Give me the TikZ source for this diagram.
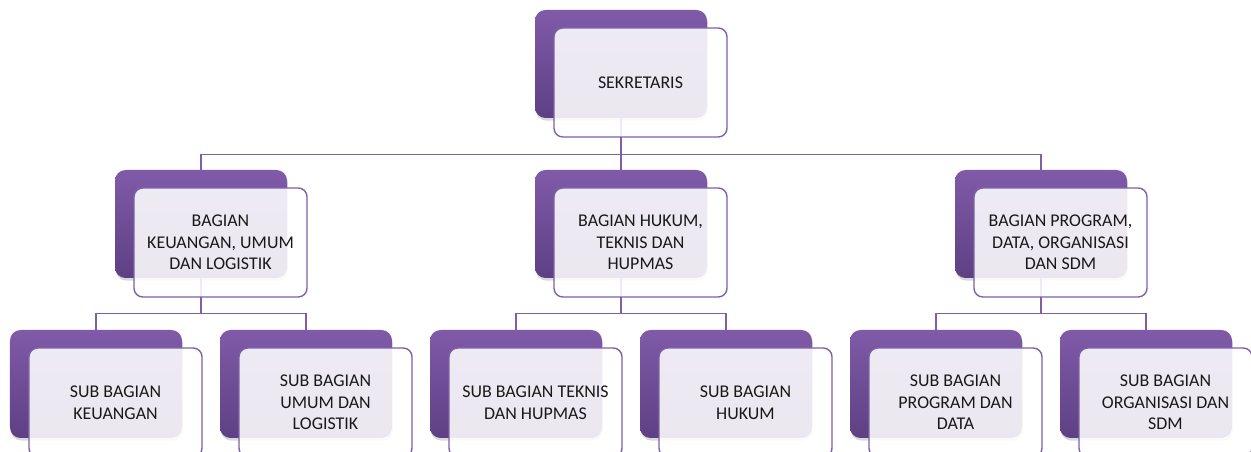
\documentclass[tikz,border=0pt]{standalone}
\usepackage{fontspec}
\setmainfont{Carlito}
\usepackage{tikz}
\usetikzlibrary{shadows}
\definecolor{purpletop}{RGB}{128,90,168}
\definecolor{purplebot}{RGB}{94,64,132}
\definecolor{purpleline}{RGB}{125,96,165}
\definecolor{textgray}{RGB}{25,25,25}
\tikzstyle{back} = [rectangle, rounded corners=6pt, minimum width=3.44cm, minimum height=2.16cm, top color=purpletop, bottom color=purplebot, draw=none, drop shadow={shadow xshift=0.5pt, shadow yshift=-1.5pt, opacity=0.3}]
\tikzstyle{front} = [rectangle, rounded corners=5pt, minimum width=3.46cm, minimum height=2.18cm, draw=purpleline, line width=0.8pt, fill=white, fill opacity=0.88, text opacity=1, text=textgray, align=center, font=\fontsize{10.2}{12.3}\selectfont]
\tikzstyle{link} = [purpleline, line width=0.85pt]

\begin{document}
\begin{tikzpicture}[node distance=3.2cm]
        \useasboundingbox (0,0) rectangle (25.02,9.04);
        \node (sek) [back] at (12.42,7.76) {};
        \node (hukum) [back, below of=sek] {};
        \node (keu) [back, left of=hukum, node distance=8.4cm] {};
        \node (prog) [back, right of=hukum, node distance=8.4cm] {};

        \node (subkeu) [back, below of=keu, xshift=-2.1cm] {};
        \node (subumum) [back, below of=keu, xshift=2.1cm] {};
        \node (subtek) [back, below of=hukum, xshift=-2.1cm] {};
        \node (subhuk) [back, below of=hukum, xshift=2.1cm] {};
        \node (subprog) [back, below of=prog, xshift=-2.1cm] {};
        \node (suborg) [back, below of=prog, xshift=2.1cm] {};

        \coordinate (bus0) at ([yshift=-0.72cm]sek.south);
        \coordinate (bus1) at ([yshift=-0.7cm]keu.south);
        \coordinate (bus2) at ([yshift=-0.7cm]hukum.south);
        \coordinate (bus3) at ([yshift=-0.7cm]prog.south);

        \draw [link] (sek.south) -- (bus0) -| (keu.north);
        \draw [link] (bus0) -- (hukum.north);
        \draw [link] (bus0) -| (prog.north);

        \draw [link] (keu.south) -- (bus1) -| (subkeu.north);
        \draw [link] (bus1) -| (subumum.north);
        \draw [link] (hukum.south) -- (bus2) -| (subtek.north);
        \draw [link] (bus2) -| (subhuk.north);
        \draw [link] (prog.south) -- (bus3) -| (subprog.north);
        \draw [link] (bus3) -| (suborg.north);

        \node (sektxt) [front, xshift=0.39cm, yshift=-0.37cm] at (sek) {SEKRETARIS};
        \node (keutxt) [front, xshift=0.39cm, yshift=-0.37cm] at (keu) {BAGIAN\\KEUANGAN, UMUM\\DAN LOGISTIK};
        \node (hukumtxt) [front, xshift=0.39cm, yshift=-0.37cm] at (hukum) {BAGIAN HUKUM,\\TEKNIS DAN\\HUPMAS};
        \node (progtxt) [front, xshift=0.39cm, yshift=-0.37cm] at (prog) {BAGIAN PROGRAM,\\DATA, ORGANISASI\\DAN SDM};

        \node (subkeutxt) [front, xshift=0.39cm, yshift=-0.37cm] at (subkeu) {SUB BAGIAN\\KEUANGAN};
        \node (subumumtxt) [front, xshift=0.39cm, yshift=-0.37cm] at (subumum) {SUB BAGIAN\\UMUM DAN\\LOGISTIK};
        \node (subtektxt) [front, xshift=0.39cm, yshift=-0.37cm] at (subtek) {SUB BAGIAN TEKNIS\\DAN HUPMAS};
        \node (subhuktxt) [front, xshift=0.39cm, yshift=-0.37cm] at (subhuk) {SUB BAGIAN\\HUKUM};
        \node (subprogtxt) [front, xshift=0.39cm, yshift=-0.37cm] at (subprog) {SUB BAGIAN\\PROGRAM DAN\\DATA};
        \node (suborgtxt) [front, xshift=0.39cm, yshift=-0.37cm] at (suborg) {SUB BAGIAN\\ORGANISASI DAN\\SDM};
      \end{tikzpicture}
\end{document}
